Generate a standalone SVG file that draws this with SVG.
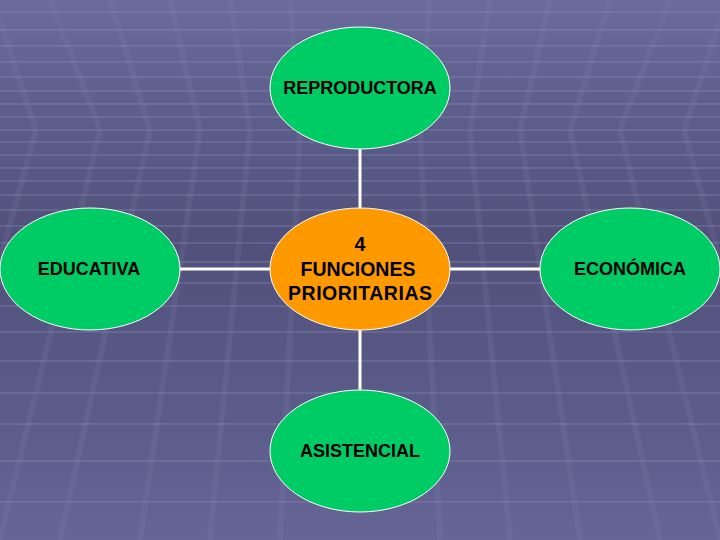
<svg xmlns="http://www.w3.org/2000/svg" width="720" height="540" viewBox="0 0 720 540">
<defs>
<linearGradient id="bg" x1="0" y1="0" x2="0" y2="1">
<stop offset="0" stop-color="#6a6a9c"/>
<stop offset="0.45" stop-color="#50507a"/>
<stop offset="1" stop-color="#656596"/>
</linearGradient>
<style>
.grid line{stroke:#8a8ab8;stroke-opacity:0.3;stroke-width:2}
.vg line{stroke:#8a8ab8;stroke-opacity:0.15;stroke-width:6}
.conn line{stroke:#ffffff;stroke-width:3}
.green{fill:#00cc66;stroke:#ffffff;stroke-width:1}
.orange{fill:#ff9900;stroke:#ffffff;stroke-width:1}
text{font-family:"Liberation Sans",Arial,sans-serif;font-weight:bold;font-size:18px;fill:#000;text-anchor:middle}
.big{font-size:19.5px}
</style>
</defs>
<rect width="720" height="540" fill="url(#bg)"/>
<g class="grid">
<line x1="0" y1="12" x2="720" y2="12"/>
<line x1="0" y1="30" x2="720" y2="30"/>
<line x1="0" y1="46" x2="720" y2="46"/>
<line x1="0" y1="62" x2="720" y2="62"/>
<line x1="0" y1="77" x2="720" y2="77"/>
<line x1="0" y1="91" x2="720" y2="91"/>
<line x1="0" y1="104" x2="720" y2="104"/>
<line x1="0" y1="117" x2="720" y2="117"/>
<line x1="0" y1="130" x2="720" y2="130"/>
<line x1="0" y1="142" x2="720" y2="142"/>
<line x1="0" y1="155" x2="720" y2="155"/>
<line x1="0" y1="168" x2="720" y2="168"/>
<line x1="0" y1="181" x2="720" y2="181"/>
<line x1="0" y1="195" x2="720" y2="195"/>
<line x1="0" y1="210" x2="720" y2="210"/>
<line x1="0" y1="226" x2="720" y2="226"/>
<line x1="0" y1="243" x2="720" y2="243"/>
<line x1="0" y1="262" x2="720" y2="262"/>
<line x1="0" y1="283" x2="720" y2="283"/>
<line x1="0" y1="306" x2="720" y2="306"/>
<line x1="0" y1="332" x2="720" y2="332"/>
<line x1="0" y1="361" x2="720" y2="361"/>
<line x1="0" y1="393" x2="720" y2="393"/>
<line x1="0" y1="424" x2="720" y2="424"/>
<line x1="0" y1="461" x2="720" y2="461"/>
<line x1="0" y1="502" x2="720" y2="502"/>
</g>
<g class="vg">
<line x1="0" y1="20" x2="36" y2="130"/>
<line x1="36" y1="130" x2="0" y2="260"/>
<line x1="50" y1="0" x2="100" y2="130"/>
<line x1="100" y1="130" x2="0" y2="540"/>
<line x1="110" y1="0" x2="150" y2="130"/>
<line x1="150" y1="130" x2="60" y2="540"/>
<line x1="170" y1="0" x2="200" y2="130"/>
<line x1="200" y1="130" x2="140" y2="540"/>
<line x1="230" y1="0" x2="250" y2="130"/>
<line x1="250" y1="130" x2="210" y2="540"/>
<line x1="290" y1="0" x2="300" y2="130"/>
<line x1="300" y1="130" x2="280" y2="540"/>
<line x1="430" y1="0" x2="420" y2="130"/>
<line x1="420" y1="130" x2="440" y2="540"/>
<line x1="490" y1="0" x2="470" y2="130"/>
<line x1="470" y1="130" x2="510" y2="540"/>
<line x1="550" y1="0" x2="520" y2="130"/>
<line x1="520" y1="130" x2="580" y2="540"/>
<line x1="610" y1="0" x2="570" y2="130"/>
<line x1="570" y1="130" x2="660" y2="540"/>
<line x1="670" y1="0" x2="620" y2="130"/>
<line x1="620" y1="130" x2="720" y2="540"/>
<line x1="720" y1="20" x2="684" y2="130"/>
<line x1="684" y1="130" x2="720" y2="260"/>
</g>
<g id="connectors" class="conn">
<line x1="360" y1="148" x2="360" y2="208"/>
<line x1="360" y1="330" x2="360" y2="390"/>
<line x1="180" y1="269" x2="270" y2="269"/>
<line x1="450" y1="269" x2="540" y2="269"/>
</g>
<g id="reproductora">
<ellipse class="green" cx="360" cy="88" rx="90" ry="61"/>
<text x="360" y="94">REPRODUCTORA</text>
</g>
<g id="funciones">
<ellipse class="orange" cx="360" cy="269" rx="90" ry="61"/>
<text class="big" x="360" y="251">4</text>
<text class="big" x="358" y="276">FUNCIONES</text>
<text class="big" x="360" y="300" textLength="144" lengthAdjust="spacing">PRIORITARIAS</text>
</g>
<g id="educativa">
<ellipse class="green" cx="90" cy="269" rx="90" ry="61"/>
<text x="89" y="275">EDUCATIVA</text>
</g>
<g id="economica">
<ellipse class="green" cx="630" cy="269" rx="90" ry="61"/>
<text x="630" y="275">ECONÓMICA</text>
</g>
<g id="asistencial">
<ellipse class="green" cx="360" cy="451" rx="90" ry="61"/>
<text x="360" y="457">ASISTENCIAL</text>
</g>
</svg>
